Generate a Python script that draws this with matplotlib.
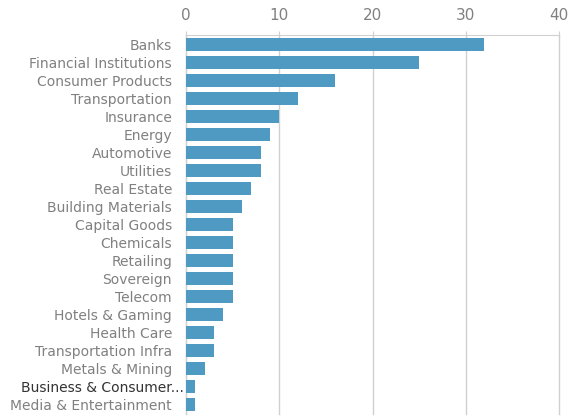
import matplotlib.pyplot as plt

sectors = ["Banks", "Financial Institutions", "Consumer Products", "Transportation",
           "Insurance", "Energy", "Automotive", "Utilities", "Real Estate",
           "Building Materials", "Capital Goods", "Chemicals", "Retailing",
           "Sovereign", "Telecom", "Hotels & Gaming", "Health Care",
           "Transportation Infra", "Metals & Mining", "Business & Consumer...",
           "Media & Entertainment"]
counts = [32, 25, 16, 12, 10, 9, 8, 8, 7, 6, 5, 5, 5, 5, 5, 4, 3, 3, 2, 1, 1]
xticks = [0, 10, 20, 30, 40]

grid_col = "#d0d0d0"
text_col = "#808080"

fig = plt.figure(figsize=(5.74, 4.18), dpi=100)
ax = fig.add_axes([0.324, 0.01, 0.650, 0.906])

pos = list(range(len(sectors)))
ax.barh(pos, counts, height=0.72, color="#4e9ac3", zorder=3)

ax.set_ylim(len(sectors) - 0.5, -0.5)
ax.set_xlim(0, 40)
ax.set_yticks(pos)
ax.set_yticklabels(sectors, fontsize=10, color=text_col)
ax.set_xticks(xticks)
ax.set_xticklabels([str(t) for t in xticks], fontsize=11, color=text_col)
ax.xaxis.tick_top()
ax.tick_params(axis="x", length=3, color=grid_col, pad=6)
ax.tick_params(axis="y", length=0, pad=10)

# the truncated label is drawn darker and runs up to the axis
for lab in ax.get_yticklabels():
    if lab.get_text().endswith("..."):
        lab.set_color("#333333")
        lab.set_x(0.032)

ax.grid(axis="x", color=grid_col, linewidth=1, zorder=0)
for gl in ax.get_xgridlines():
    gl.set_clip_on(False)
for side in ["right", "bottom"]:
    ax.spines[side].set_visible(False)
ax.spines["top"].set_color(grid_col)
ax.spines["left"].set_color(grid_col)

fig.savefig("out.png", dpi=100)
